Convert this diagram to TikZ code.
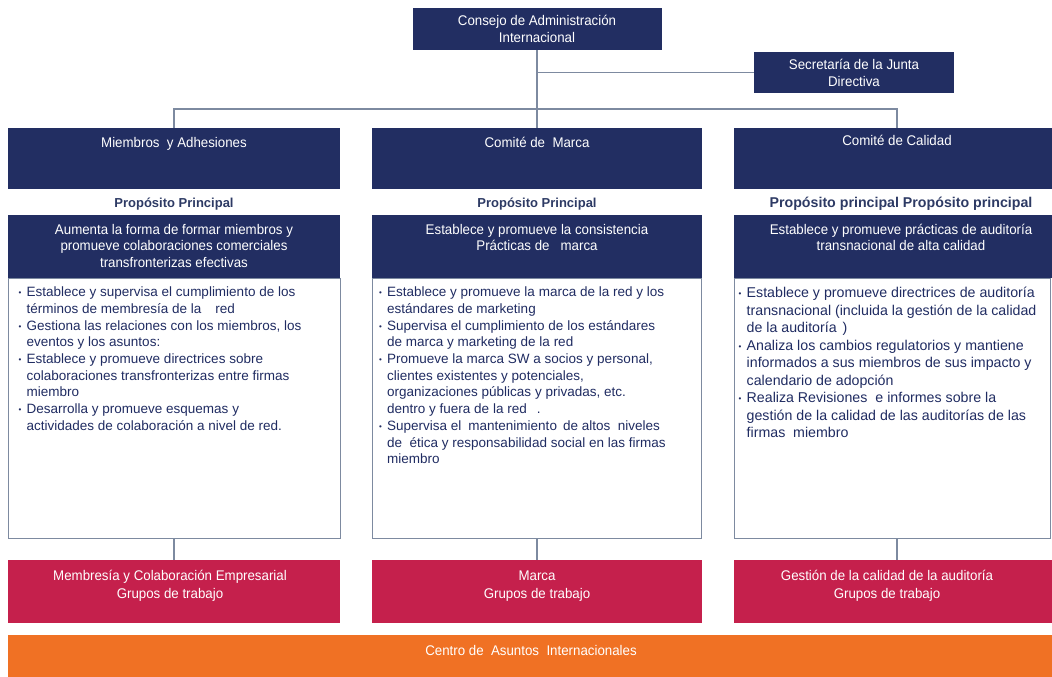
\documentclass[tikz,border=0pt]{standalone}
\usepackage{fontspec}
\setmainfont{Liberation Sans}
\newfontfamily\narrowf[FakeStretch=0.95]{Liberation Sans}
\definecolor{navyc}{RGB}{34,46,98}
\definecolor{redc}{RGB}{197,32,76}
\definecolor{orangec}{RGB}{240,113,36}
\definecolor{linec}{RGB}{125,138,160}
\definecolor{textc}{RGB}{32,44,98}
\definecolor{propc}{RGB}{45,58,100}
\newcommand{\bl}{\makebox[8pt][l]{\raisebox{0.8pt}{\fontsize{8}{8}\selectfont\textbullet}}}
\newcommand{\ind}{\hspace*{8pt}}
\newcommand{\fl}{\rule{0pt}{14pt}}
\begin{document}
\begin{tikzpicture}[x=1pt,y=-1pt,
  navybox/.style={fill=navyc, draw=none, inner sep=0, text=white, align=center,
    font=\narrowf\fontsize{14}{17}\selectfont},
  redbox/.style={fill=redc, draw=none, inner sep=0},
  whitebox/.style={fill=white, draw=linec, line width=1pt, inner sep=0},
  wtitle/.style={text=white, inner sep=0, align=center, font=\narrowf\fontsize{14}{16.5}\selectfont},
  rtitle/.style={text=white, inner sep=0, align=center, font=\narrowf\fontsize{14}{18}\selectfont},
  prop/.style={text=propc, inner sep=0, font=\bfseries\fontsize{13}{15}\selectfont},
  listtext/.style={text=textc, inner sep=0, align=left, font=\fontsize{13.5}{16.7}\selectfont},
  conn/.style={draw=linec, line width=1.3pt}
]
\useasboundingbox (0,0) rectangle (1052,677);
\clip (0,0) rectangle (1052,677);

% top level
\node[navybox, minimum width=249, minimum height=42] (consejo) at (537,29) {Consejo de Administración\\Internacional};
\node[navybox, minimum width=200, minimum height=41] (secre) at (854,72.5) {Secretaría de la Junta\\Directiva};
\coordinate (bus) at (537,109);

% committees
\node[navybox, minimum width=332, minimum height=61] (c1) at (174,158.5) {};
\node[navybox, minimum width=330, minimum height=61] (c2) at (537,158.5) {};
\node[navybox, minimum width=326, minimum height=61] (c3) at (897,158.5) {};
\node[wtitle, anchor=base] (c1t) at ([yshift=-20pt]c1.north) {Miembros\ \ y Adhesiones};
\node[wtitle, anchor=base] (c2t) at ([yshift=-20pt]c2.north) {Comité de\ \ Marca};
\node[wtitle, anchor=base] (c3t) at ([yshift=-18pt]c3.north) {Comité de Calidad};

\draw[conn] (consejo.south) -- (c2.north);
\draw[conn] (consejo.south |- secre.west) -- (secre.west);
\draw[conn] (c1.north) -- (c1.north |- bus) -- (c3.north |- bus) -- (c3.north);

% purpose headings
\node[prop, anchor=base] (p1) at ([yshift=-18pt]c1.south) {Propósito Principal};
\node[prop, anchor=base] (p2) at ([yshift=-18pt]c2.south) {Propósito Principal};
\node[prop, anchor=base, font=\bfseries\fontsize{14.2}{16}\selectfont] (p3) at ([xshift=4pt,yshift=-18pt]c3.south) {Propósito principal Propósito principal};

% navy sub boxes
\node[navybox, minimum width=332, minimum height=63] (s1) at (174,246.5) {};
\node[navybox, minimum width=330, minimum height=63] (s2) at (537,246.5) {};
\node[navybox, minimum width=326, minimum height=63] (s3) at (897,246.5) {};
\node[wtitle, anchor=north] (s1t) at ([yshift=-5pt]s1.north) {\fl Aumenta la forma de formar miembros y\\promueve colaboraciones comerciales\\transfronterizas efectivas};
\node[wtitle, anchor=north] (s2t) at ([yshift=-5pt]s2.north) {\fl Establece y promueve la consistencia\\Prácticas de\ \ \ marca};
\node[wtitle, anchor=north] (s3t) at ([xshift=4pt,yshift=-5pt]s3.north) {\fl Establece y promueve prácticas de auditoría\\transnacional de alta calidad};

% white boxes
\node[whitebox, minimum width=332, minimum height=260] (w1) at (174,408) {};
\node[whitebox, minimum width=329, minimum height=260] (w2) at (537,408) {};
\node[whitebox, minimum width=316, minimum height=260] (w3) at (892,408) {};

\node[listtext, anchor=north west] (l1) at ([xshift=11pt,yshift=-5pt]w1.north west) {%
\fl\bl Establece y supervisa el cumplimiento de los\\
\ind términos de membresía de la\hspace{14pt}red\\
\bl Gestiona las relaciones con los miembros, los\\
\ind eventos y los asuntos:\\
\bl Establece y promueve directrices sobre\\
\ind colaboraciones transfronterizas entre firmas\\
\ind miembro\\
\bl Desarrolla y promueve esquemas y\\
\ind actividades de colaboración a nivel de red.};

\node[listtext, anchor=north west] (l2) at ([xshift=7pt,yshift=-5pt]w2.north west) {%
\fl\bl Establece y promueve la marca de la red y los\\
\ind estándares de marketing\\
\bl Supervisa el cumplimiento de los estándares\\
\ind de marca y marketing de la red\\
\bl Promueve la marca SW a socios y personal,\\
\ind clientes existentes y potenciales,\\
\ind organizaciones públicas y privadas, etc.\\
\ind dentro y fuera de la red\hspace{10pt}.\\
\bl Supervisa el\hspace{7pt}mantenimiento\hspace{6pt}de altos\ \ niveles\\
\ind de\ \ ética y responsabilidad social en las firmas\\
\ind miembro};

\node[listtext, anchor=north west, font=\fontsize{14.2}{17.5}\selectfont] (l3) at ([xshift=5pt,yshift=-6pt]w3.north west) {%
\fl\bl Establece y promueve directrices de auditoría\\
\ind transnacional (incluida la gestión de la calidad\\
\ind de la auditoría\hspace{6pt})\\
\bl Analiza los cambios regulatorios y mantiene\\
\ind informados a sus miembros de sus impacto y\\
\ind calendario de adopción\\
\bl Realiza Revisiones\hspace{8pt}e informes sobre la\\
\ind gestión de la calidad de las auditorías de las\\
\ind firmas\ \ miembro};

% working groups
\node[redbox, minimum width=332, minimum height=63] (r1) at (174,591.5) {};
\node[redbox, minimum width=330, minimum height=63] (r2) at (537,591.5) {};
\node[redbox, minimum width=326, minimum height=63] (r3) at (897,591.5) {};
\node[rtitle, anchor=north] (r1t) at ([xshift=-4pt,yshift=-6pt]r1.north) {\fl Membresía y Colaboración Empresarial\\Grupos de trabajo};
\node[rtitle, anchor=north] (r2t) at ([yshift=-6pt]r2.north) {\fl Marca\\Grupos de trabajo};
\node[rtitle, anchor=north] (r3t) at ([xshift=-10pt,yshift=-6pt]r3.north) {\fl Gestión de la calidad de la auditoría\\Grupos de trabajo};

\draw[conn] (w1.south) -- (r1.north);
\draw[conn] (w2.south) -- (r2.north);
\draw[conn] (r3.north) -- (r3.north |- w3.south);

% bottom band
\node[fill=orangec, draw=none, inner sep=0, minimum width=1060, minimum height=55, anchor=north west] (centro) at (8,635) {};
\node[wtitle, anchor=base, font=\narrowf\fontsize{14}{16}\selectfont] (centrot) at (531,655) {Centro de\ \ Asuntos\ \ Internacionales};
\end{tikzpicture}
\end{document}
